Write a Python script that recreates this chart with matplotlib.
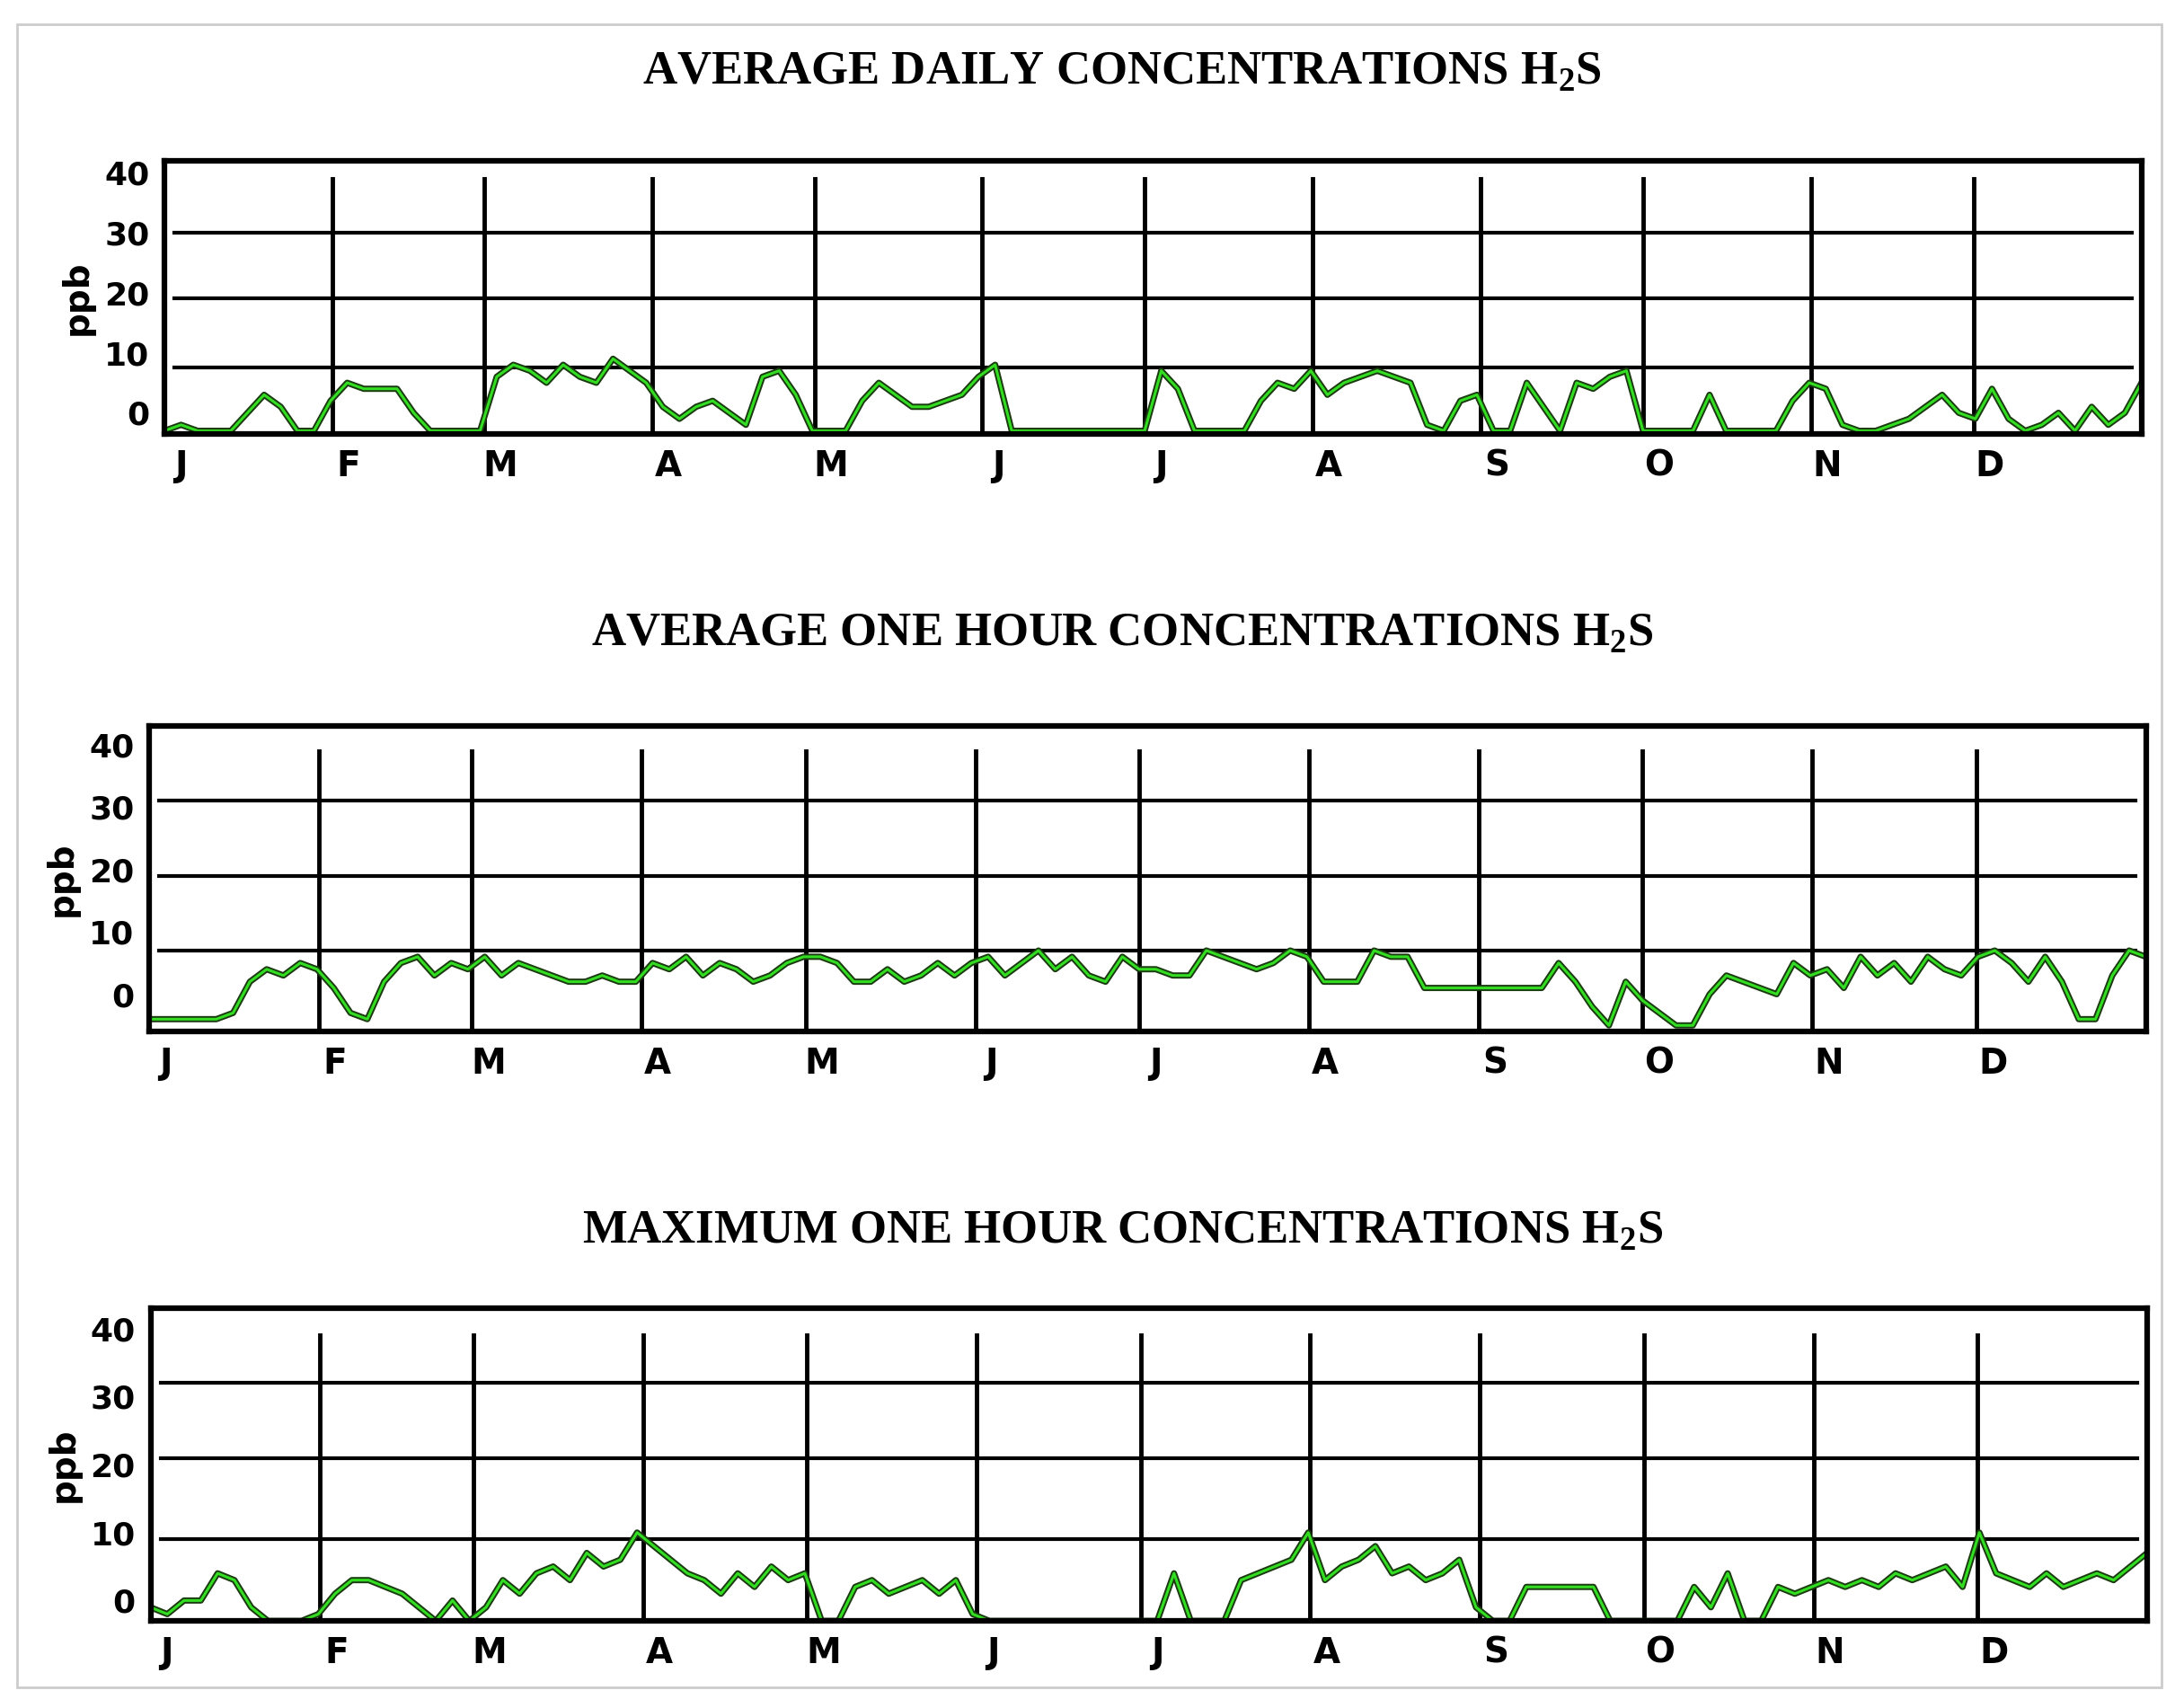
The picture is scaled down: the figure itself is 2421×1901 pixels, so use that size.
import numpy as np
import matplotlib
matplotlib.use("Agg")
import matplotlib.pyplot as plt
from matplotlib.patches import Rectangle

months = ["J","F","M","A","M","J","J","A","S","O","N","D"]
month_starts = [0,31,59,90,120,151,181,212,243,273,304,334]
yticks = [0,10,20,30,40]

daily_avg = [-3,-2,-3,-3,-3,0,3,1,-3,-3,
             2,5,4,4,4,0,-3,-3,-3,-3,
             6,8,7,5,8,6,5,9,7,5,
             1,-1,1,2,0,-2,6,7,3,-3,
             -3,-3,2,5,3,1,1,2,3,6,
             8,-3,-3,-3,-3,-3,-3,-3,-3,-3,
             7,4,-3,-3,-3,-3,2,5,4,7,
             3,5,6,7,6,5,-2,-3,2,3,
             -3,-3,5,1,-3,5,4,6,7,-3,
             -3,-3,-3,3,-3,-3,-3,-3,2,5,
             4,-2,-3,-3,-2,-1,1,3,0,-1,
             4,-1,-3,-2,0,-3,1,-2,0,5]
hour_avg = [-4,-4,-4,-4,-4,-3,2,4,3,5,
            4,1,-3,-4,2,5,6,3,5,4,
            6,3,5,4,3,2,2,3,2,2,
            5,4,6,3,5,4,2,3,5,6,
            6,5,2,2,4,2,3,5,3,5,
            6,3,5,7,4,6,3,2,6,4,
            4,3,3,7,6,5,4,5,7,6,
            2,2,2,7,6,6,1,1,1,1,
            1,1,1,1,5,2,-2,-5,2,-1,
            -3,-5,-5,0,3,2,1,0,5,3,
            4,1,6,3,5,2,6,4,3,6,
            7,5,2,6,2,-4,-4,3,7,6]
hour_max = [-1,-2,0,0,4,3,-1,-3,-3,-3,
            -2,1,3,3,2,1,-1,-3,0,-3,
            -1,3,1,4,5,3,7,5,6,10,
            8,6,4,3,1,4,2,5,3,4,
            -3,-3,2,3,1,2,3,1,3,-2,
            -3,-3,-3,-3,-3,-3,-3,-3,-3,-3,
            -3,4,-3,-3,-3,3,4,5,6,10,
            3,5,6,8,4,5,3,4,6,-1,
            -3,-3,2,2,2,2,2,-3,-3,-3,
            -3,-3,2,-1,4,-3,-3,2,1,2,
            3,2,3,2,4,3,4,5,2,10,
            4,3,2,4,2,3,4,3,5,7]

titles = ["AVERAGE DAILY CONCENTRATIONS H$_\\mathregular{2}$S",
          "AVERAGE ONE HOUR CONCENTRATIONS H$_\\mathregular{2}$S",
          "MAXIMUM ONE HOUR CONCENTRATIONS H$_\\mathregular{2}$S"]
series = [daily_avg, hour_avg, hour_max]

fig = plt.figure(figsize=(24.21, 19.01), dpi=100)
fig.patches.append(Rectangle((0.008, 0.012), 0.986, 0.974, transform=fig.transFigure,
                             fill=False, edgecolor="#cccccc", lw=2))
boxes = [(0.0756, 0.746, 0.909, 0.160), (0.0686, 0.396, 0.918, 0.179), (0.0692, 0.051, 0.918, 0.183)]
ylims = [(-3.5, 42), (-6, 43), (-3, 43)]
hlines = [(7.5, 19, 30), (7, 19, 31), (9, 21, 32)]
title_y = [0.958, 0.629, 0.279]

for i in range(3):
    ax = fig.add_axes(boxes[i])
    x = np.linspace(0, 365, len(series[i]))
    for h in hlines[i]:
        ax.axhline(h, color="black", lw=3, xmin=0.005, xmax=0.995)
    for m in month_starts[1:]:
        ax.plot([m, m], [ylims[i][0], 39], color="black", lw=3.5)
    ax.plot(x, series[i], color="#1a3a10", lw=5)
    ax.plot(x, series[i], color="#33dd22", lw=2.2)
    ax.set_xlim(0, 365)
    ax.set_ylim(*ylims[i])
    ax.set_yticks(yticks)
    ax.set_yticklabels([str(t) for t in yticks], fontsize=26, fontweight="bold")
    ax.set_xticks([m + 3 for m in month_starts])
    ax.set_xticklabels(months, fontsize=28, fontweight="bold")
    ax.tick_params(length=0, pad=12)
    for s in ax.spines.values():
        s.set_linewidth(4.5)
    ax.set_ylabel("ppb", fontsize=28, fontweight="bold", labelpad=8)
    fig.text(0.516, title_y[i], titles[i], ha="center", va="center",
             fontsize=38, fontweight="bold", family="Liberation Serif")

fig.savefig("out.png", dpi=100)
